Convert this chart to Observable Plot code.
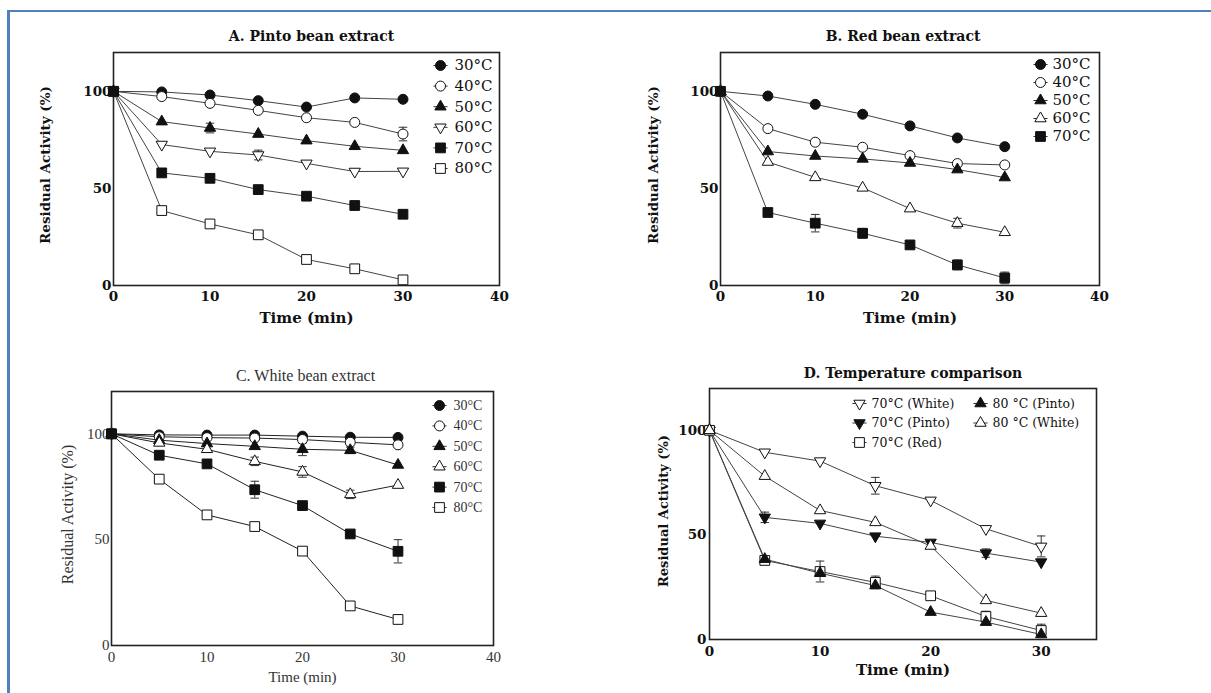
<!DOCTYPE html>
<html><head><meta charset="utf-8">
<script src="https://cdn.jsdelivr.net/npm/d3@7"></script>
<script src="https://cdn.jsdelivr.net/npm/@observablehq/plot@0.6"></script>
<style>
body{margin:0;background:#fff;}
#root{position:relative;width:1211px;height:693px;overflow:hidden;background:#fff;}
#border{position:absolute;left:7px;top:10px;width:1230px;height:720px;border-top:2px solid #4f81bd;border-left:3px solid #4f81bd;}
.panel{position:absolute;}
.panel svg{overflow:visible;}
</style></head><body><div id="root"><div id="border"></div></div>
<script>
// ---------- data ----------
const times = [0, 5, 10, 15, 20, 25, 30];

const pintoLabels = ["30°C", "40°C", "50°C", "60°C", "70°C", "80°C"];
const pintoStyles = ["filledCircle", "openCircle", "filledUp", "openDown", "filledSquare", "openSquare"];
const pintoValues = [
  [100, 99.7, 98.1, 95.2, 91.9, 96.6, 95.9],
  [100, 97.3, 93.8, 90.2, 86.4, 84.0, 78.0],
  [100, 84.4, 81.1, 78.0, 74.6, 71.7, 69.6],
  [100, 72.6, 69.1, 67.2, 62.9, 58.7, 58.8],
  [100, 58.0, 55.2, 49.4, 46.0, 41.2, 36.7],
  [100, 38.6, 31.7, 26.1, 13.4, 8.6, 2.9]
];
const pintoErrors = [
  [0, 0, 0, 0, 0, 0, 0],
  [0, 0, 0, 0, 0, 0, 3.5],
  [0, 0, 2.5, 0, 0, 0, 0],
  [0, 0, 0, 2.5, 0, 0, 0],
  [0, 0, 0, 0, 0, 0, 0],
  [0, 0, 0, 0, 0, 0, 0]
];

const redLabels = ["30°C", "40°C", "50°C", "60°C", "70°C"];
const redStyles = ["filledCircle", "openCircle", "filledUp", "openUp", "filledSquare"];
const redValues = [
  [100, 97.6, 93.3, 88.2, 82.2, 76.0, 71.5],
  [100, 80.8, 73.8, 71.2, 66.9, 62.8, 62.1],
  [100, 69.0, 66.7, 65.2, 63.1, 59.7, 55.6],
  [100, 63.6, 55.7, 50.3, 39.6, 32.1, 27.4],
  [100, 37.6, 32.1, 26.9, 20.9, 10.6, 3.9]
];
const redErrors = [
  [0, 0, 0, 0, 0, 0, 0],
  [0, 0, 0, 0, 0, 0, 0],
  [0, 0, 0, 0, 0, 0, 0],
  [0, 0, 0, 0, 0, 2.5, 0],
  [0, 1.5, 4.5, 2.5, 0, 2.5, 3]
];

const whiteLabels = ["30°C", "40°C", "50°C", "60°C", "70°C", "80°C"];
const whiteStyles = ["filledCircle", "openCircle", "filledUp", "openUp", "filledSquare", "openSquare"];
const whiteValues = [
  [100, 99.5, 99.4, 99.4, 98.9, 98.4, 98.3],
  [100, 98.6, 98.2, 98.0, 97.3, 96.0, 94.8],
  [100, 97.0, 95.4, 94.1, 92.7, 92.2, 85.3],
  [100, 95.7, 92.7, 87.0, 82.0, 71.4, 75.8],
  [100, 89.9, 85.8, 73.6, 66.1, 52.7, 44.5],
  [100, 78.6, 61.7, 56.2, 44.6, 18.7, 12.3]
];
const whiteErrors = [
  [0, 0, 0, 0, 0, 0, 0],
  [0, 0, 0, 0, 0, 0, 0],
  [0, 0, 0, 0, 3, 1.5, 0],
  [0, 0, 1.5, 2, 2.5, 2, 0],
  [0, 0, 0, 4, 0, 0, 5.5],
  [0, 0, 0, 0, 0, 0, 0]
];

const compLabels = ["70°C (White)", "70°C (Pinto)", "70°C (Red)", "80 °C (Pinto)", "80 °C (White)"];
const compStyles = ["openDown", "filledDown", "openSquare", "filledUp", "openUp"];
const compValues = [
  [100, 89.5, 85.3, 73.5, 66.5, 52.9, 44.5],
  [100, 58.4, 55.5, 49.4, 46.4, 41.3, 37.0],
  [100, 37.8, 32.5, 27.3, 20.9, 11.0, 4.3],
  [100, 38.4, 31.7, 25.8, 13.1, 8.3, 2.4],
  [100, 78.1, 61.7, 56.0, 44.7, 18.7, 12.6]
];
const compErrors = [
  [0, 0, 0, 4, 0, 0, 5],
  [0, 2.5, 0, 0, 0, 2, 0],
  [0, 2, 5, 3, 0, 2.5, 3],
  [0, 0, 0, 0, 0, 0, 0],
  [0, 0, 0, 0, 0, 0, 0]
];

const yTicks = [0, 50, 100];
const xTicksWide = [0, 10, 20, 30, 40];
const xTicksComp = [0, 10, 20, 30];

// ---------- symbols ----------
const S3 = Math.sqrt(3);
const symDown = {draw(ctx, size) {
  const y = Math.sqrt(size / (S3 * 3));
  ctx.moveTo(0, y * 2); ctx.lineTo(-S3 * y, -y); ctx.lineTo(S3 * y, -y); ctx.closePath();
}};
const symHLine = {draw(ctx, size) {
  const w = Math.sqrt(size); ctx.moveTo(-w, 0); ctx.lineTo(w, 0);
}};
const styles = {
  filledCircle: {symbol: "circle", fill: "#111", r: 5},
  openCircle: {symbol: "circle", fill: "white", r: 5},
  filledUp: {symbol: "triangle", fill: "#111", r: 4.2},
  openUp: {symbol: "triangle", fill: "white", r: 4.2},
  filledDown: {symbol: symDown, fill: "#111", r: 4.2},
  openDown: {symbol: symDown, fill: "white", r: 4.2},
  filledSquare: {symbol: "square", fill: "#111", r: 5.5},
  openSquare: {symbol: "square", fill: "white", r: 5.5}
};

function makePanel(cfg) {
  const rows = [];
  cfg.labels.forEach((s, i) => times.forEach((t, j) =>
    rows.push({s, t, v: cfg.values[i][j], e: cfg.errors[i][j]})));
  const errRows = rows.filter(d => d.e > 0);
  const ink = cfg.ink;
  const marks = [
    Plot.frame({stroke: "#222", strokeWidth: 1.6}),
    Plot.line(rows, {x: "t", y: "v", z: "s", stroke: cfg.lineColor, strokeWidth: 1}),
    Plot.ruleX(errRows, {x: "t", y1: d => d.v - d.e, y2: d => d.v + d.e, stroke: "#333", strokeWidth: 1}),
    Plot.dot(errRows, {x: "t", y: d => d.v + d.e, symbol: symHLine, r: 2.4, stroke: "#333", strokeWidth: 1}),
    Plot.dot(errRows, {x: "t", y: d => d.v - d.e, symbol: symHLine, r: 2.4, stroke: "#333", strokeWidth: 1})
  ];
  const order = cfg.labels.map((_, i) => i)
    .sort((a, b) => (cfg.styles[a] === "filledSquare") - (cfg.styles[b] === "filledSquare"));
  for (const i of order) {
    const st = styles[cfg.styles[i]];
    marks.push(Plot.dot(rows.filter(d => d.s === cfg.labels[i]),
      {x: "t", y: "v", symbol: st.symbol, r: st.r, fill: st.fill, stroke: "#111", strokeWidth: 1}));
  }
  // legend
  cfg.labels.forEach((lab, i) => {
    const st = styles[cfg.styles[i]];
    const p = cfg.legendPos(i);
    marks.push(Plot.dot([lab], {frameAnchor: cfg.legendAnchor, dx: p.sx, dy: p.y, symbol: symHLine, r: 4, stroke: "#333", strokeWidth: 1}));
    marks.push(Plot.dot([lab], {frameAnchor: cfg.legendAnchor, dx: p.sx, dy: p.y, symbol: st.symbol, r: st.r, fill: st.fill, stroke: "#111", strokeWidth: 1}));
    marks.push(Plot.text([lab], {frameAnchor: cfg.legendAnchor, dx: p.tx, dy: p.y, text: d => d,
      textAnchor: "start", lineAnchor: "middle",
      fontSize: cfg.legendSize, fontWeight: "normal", fontFamily: cfg.legendFont, fill: ink}));
  });
  // title and axis labels
  marks.push(Plot.text([cfg.title], {frameAnchor: "top", dx: cfg.titleDx, dy: cfg.titleDy, text: d => d,
    textAnchor: "middle", lineAnchor: "middle", fontSize: cfg.titleSize, fontWeight: cfg.weight, fill: ink}));
  marks.push(Plot.text(["Time (min)"], {frameAnchor: "bottom", dy: cfg.xLabelDy, text: d => d,
    textAnchor: "middle", lineAnchor: "middle", fontSize: cfg.xLabelSize, fontWeight: cfg.weight, fill: ink}));
  marks.push(Plot.text(["Residual Activity (%)"], {frameAnchor: "left", dx: cfg.yLabelDx, dy: cfg.yLabelDy, rotate: -90,
    textAnchor: "middle", lineAnchor: "middle", text: d => d, fontSize: cfg.yLabelSize, fontWeight: cfg.weight, fill: ink}));

  const svg = Plot.plot({
    width: cfg.width, height: cfg.height,
    marginLeft: cfg.m[3], marginRight: cfg.m[1], marginTop: cfg.m[0], marginBottom: cfg.m[2],
    style: {fontFamily: cfg.font, fontSize: cfg.tickSize + "px", fontWeight: cfg.weight, color: ink, background: "transparent", overflow: "visible"},
    x: {domain: cfg.xDomain, ticks: cfg.xTicks, tickSize: 0, tickPadding: cfg.xPad, label: null, tickFormat: d => String(d)},
    y: {domain: [0, 120], ticks: yTicks, tickSize: 0, tickPadding: cfg.yPad, label: null, tickFormat: d => String(d)},
    marks
  });
  const div = document.createElement("div");
  div.className = "panel";
  div.style.left = cfg.left + "px";
  div.style.top = cfg.top + "px";
  div.appendChild(svg);
  document.getElementById("root").appendChild(div);
}

const boldSerif = "'DejaVu Serif', serif";
const plainSerif = "'Liberation Serif', 'DejaVu Serif', serif";

makePanel({
  labels: pintoLabels, styles: pintoStyles, values: pintoValues, errors: pintoErrors,
  left: 0, top: 0, width: 600, height: 340, m: [52, 101, 55, 113],
  xDomain: [0, 40], xTicks: xTicksWide, xPad: 6, yPad: 2,
  font: boldSerif, weight: "bold", tickSize: 13.5, ink: "#111", lineColor: "#444",
  title: "A. Pinto bean extract", titleSize: 14, titleDx: 5, titleDy: -16,
  xLabelDy: 33, xLabelSize: 15, yLabelDx: -68, yLabelDy: -4, yLabelSize: 13.5,
  legendAnchor: "top-right", legendFont: boldSerif, legendSize: 15,
  legendPos: i => ({sx: -59, tx: -45, y: 13 + i * 20.6})
});

makePanel({
  labels: redLabels, styles: redStyles, values: redValues, errors: redErrors,
  left: 600, top: 0, width: 611, height: 340, m: [52, 112, 55, 120],
  xDomain: [0, 40], xTicks: xTicksWide, xPad: 6, yPad: 2,
  font: boldSerif, weight: "bold", tickSize: 13.5, ink: "#111", lineColor: "#444",
  title: "B. Red bean extract", titleSize: 14, titleDx: -7, titleDy: -16,
  xLabelDy: 33, xLabelSize: 15, yLabelDx: -67, yLabelDy: -4, yLabelSize: 13.5,
  legendAnchor: "top-right", legendFont: boldSerif, legendSize: 15,
  legendPos: i => ({sx: -59, tx: -47, y: 12 + i * 18})
});

makePanel({
  labels: whiteLabels, styles: whiteStyles, values: whiteValues, errors: whiteErrors,
  left: 0, top: 340, width: 600, height: 353, m: [51, 107, 48, 111],
  xDomain: [0, 40], xTicks: xTicksWide, xPad: 6, yPad: 2,
  font: plainSerif, weight: "normal", tickSize: 15, ink: "#333", lineColor: "#222",
  title: "C. White bean extract", titleSize: 16, titleDx: 3, titleDy: -16,
  xLabelDy: 32, xLabelSize: 15, yLabelDx: -44, yLabelDy: -4, yLabelSize: 16,
  legendAnchor: "top-right", legendFont: plainSerif, legendSize: 14,
  legendPos: i => ({sx: -54, tx: -40, y: 14 + i * 20.4})
});

makePanel({
  labels: compLabels, styles: compStyles, values: compValues, errors: compErrors,
  left: 600, top: 340, width: 611, height: 353, m: [48, 115, 54, 109],
  xDomain: [0, 35], xTicks: xTicksComp, xPad: 7, yPad: 3,
  font: boldSerif, weight: "bold", tickSize: 13.5, ink: "#111", lineColor: "#444",
  title: "D. Temperature comparison", titleSize: 14, titleDx: 10, titleDy: -15,
  xLabelDy: 31, xLabelSize: 15, yLabelDx: -46, yLabelDy: -3, yLabelSize: 13,
  legendAnchor: "top-left", legendFont: boldSerif, legendSize: 12.5,
  legendPos: i => (i < 3 ? {sx: 150, tx: 162, y: 15 + i * 19.5} : {sx: 271, tx: 283, y: 15 + (i - 3) * 19.5})
});
</script>
</body></html>
